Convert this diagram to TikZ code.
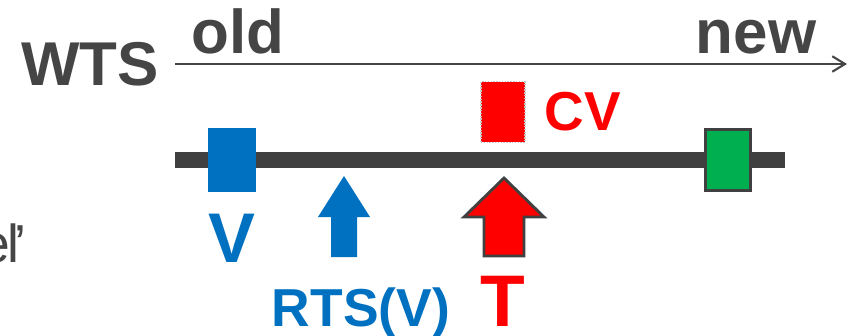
\documentclass[tikz,border=0pt]{standalone}
\usepackage{fontspec}
\setmainfont{Liberation Sans}
\usetikzlibrary{arrows.meta,positioning}

\definecolor{barGray}{HTML}{404040}
\definecolor{txtGray}{HTML}{454545}
\definecolor{tsBlue}{HTML}{0070C0}
\definecolor{tsRed}{HTML}{FF0000}
\definecolor{tsGreen}{HTML}{00B050}

\begin{document}
\begin{tikzpicture}[x=0.025cm,y=-0.025cm,line join=miter,
                    >={Straight Barb[length=9pt,width=11pt]}]
  \tikzstyle{lbl}=[inner sep=0pt,anchor=base]
  \tikzstyle{slot}=[rectangle,inner sep=0pt,minimum width=1.2cm,minimum height=1.6cm]
  \useasboundingbox (0,0) rectangle (851,336);

  % timestamp axis
  \node[lbl,text=txtGray,font=\bfseries\fontsize{44}{50}\selectfont] (wts) at (90,85) {WTS};
  \node[lbl,text=txtGray,font=\bfseries\fontsize{44}{50}\selectfont] (old) at (238,53) {old};
  \node[lbl,text=txtGray,font=\bfseries\fontsize{44}{50}\selectfont] (new) at (756,53) {new};
  \coordinate (tstart) at (175,64);
  \coordinate (tend)   at (847,64);
  \draw[->,txtGray,line width=1.5pt] (tstart) -- (tend);

  % version chain
  \coordinate (barL) at (175,160);
  \coordinate (barR) at (785,160);
  \draw[barGray,line width=0.4cm] (barL) -- (barR);

  \node[slot,fill=tsBlue] (v) at (232,160) {};
  \node[slot,fill=tsGreen,draw=barGray,line width=2.5pt,
        minimum width=1.12cm,minimum height=1.52cm] (w) at (728,160) {};
  \node[rectangle,inner sep=0pt,minimum width=1.1cm,minimum height=1.52cm,
        fill=tsRed,draw=gray!45,densely dotted,line width=1pt] (cv) at (503,112) {};
  \node[lbl,text=tsRed,font=\bfseries\fontsize{39}{45}\selectfont] (cvlbl) at (583,130) {CV};

  % read timestamp and transaction
  \coordinate (rts) at (344,176);
  \fill[tsBlue] (rts) -- ++(26,41) -- ++(-13,0) -- ++(0,40) -- ++(-26,0)
                -- ++(0,-40) -- ++(-13,0) -- cycle;
  \coordinate (t) at (504,178);
  \filldraw[fill=tsRed,draw=barGray,line width=2pt] (t) -- ++(40,39) -- ++(-20,0)
                -- ++(0,39) -- ++(-40,0) -- ++(0,-39) -- ++(-20,0) -- cycle;

  \node[lbl,text=tsBlue,font=\bfseries\fontsize{50}{56}\selectfont] (vlbl) at (232,262) {V};
  \node[lbl,text=tsBlue,font=\bfseries\fontsize{38}{44}\selectfont] (rtslbl) at (361,326) {RTS(V)};
  \node[lbl,text=tsRed,font=\bfseries\fontsize{52}{58}\selectfont] (tlbl) at (503,326) {T};
  \node[lbl,anchor=base east,text=txtGray,font=\fontsize{38}{44}\selectfont] (model) at (27,262)
       {e\kern-2pt l\kern-3.5pt’};
\end{tikzpicture}
\end{document}
